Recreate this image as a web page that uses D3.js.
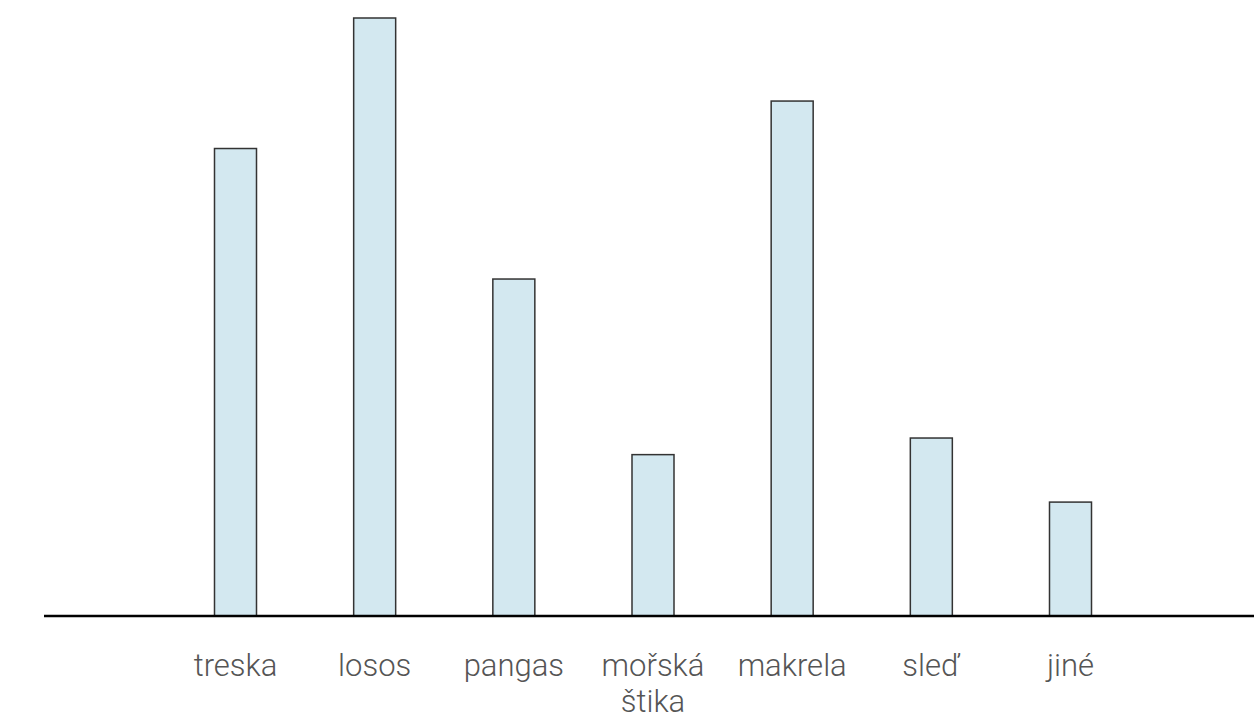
<!DOCTYPE html>
<html>
<head>
<meta charset="utf-8">
<script src="https://cdn.jsdelivr.net/npm/d3@7"></script>
<style>
  html, body { margin: 0; padding: 0; background: #fff; }
  svg { display: block; }
  .label { font-family: Roboto, "Open Sans", sans-serif; font-weight: 300; font-size: 31px; fill: #555; }
</style>
</head>
<body>
<svg width="1254" height="721"></svg>
<script>
// fish consumption shares (%)
const categories = ['treska', 'losos', 'pangas', 'mořská štika', 'makrela', 'sleď', 'jiné'];
const values = [19.7, 25.2, 14.2, 6.8, 21.7, 7.5, 4.8];
const labelLines = [['treska'], ['losos'], ['pangas'], ['mořská', 'štika'], ['makrela'], ['sleď'], ['jiné']];

const svg = d3.select('svg');
const baseline = 616;
const barWidth = 42;

const x = d3.scalePoint()
    .domain(categories)
    .range([235.5, 1070.5]);

const y = d3.scaleLinear()
    .domain([0, 25.2])
    .range([baseline, 18]);

svg.append('g')
    .selectAll('rect')
    .data(values)
    .join('rect')
    .attr('x', (d, i) => x(categories[i]) - barWidth / 2)
    .attr('y', d => y(d))
    .attr('width', barWidth)
    .attr('height', d => baseline - y(d))
    .attr('fill', '#d3e8f0')
    .attr('stroke', '#333')
    .attr('stroke-width', 1.5);

// baseline
svg.append('line')
    .attr('x1', 44)
    .attr('x2', 1254)
    .attr('y1', baseline)
    .attr('y2', baseline)
    .attr('stroke', '#000')
    .attr('stroke-width', 2.5);

const labels = svg.append('g')
    .selectAll('text')
    .data(labelLines)
    .join('text')
    .attr('class', 'label')
    .attr('text-anchor', 'middle')
    .attr('transform', (d, i) => `translate(${x(categories[i])},676)`);

labels.selectAll('tspan')
    .data(d => d)
    .join('tspan')
    .attr('x', 0)
    .attr('y', (d, j) => j * 36)
    .text(d => d);
</script>
</body>
</html>
